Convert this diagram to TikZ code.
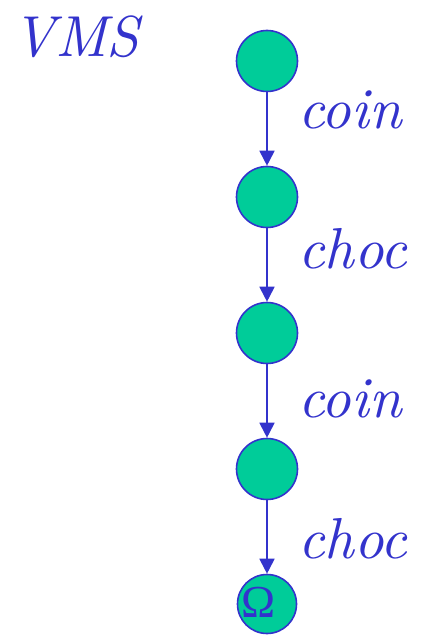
\documentclass[tikz,border=0pt]{standalone}
\usepackage{fontspec}
\newfontfamily\tms{Liberation Serif}
\newfontfamily\lmit{lmroman10-italic.otf}
\usetikzlibrary{arrows.meta}
\definecolor{ink}{HTML}{3333CC}
\definecolor{state}{HTML}{00CC99}
\begin{document}
\begin{tikzpicture}[x=1bp,y=-1bp,
  stnode/.style={circle,draw=ink,fill=state,line width=1.6bp,minimum size=61bp,inner sep=0pt},
  trans/.style={draw=ink,line width=1.8bp,-{Triangle[length=15bp,width=15bp]}},
  lbl/.style={text=ink,font=\lmit\fontsize{58}{60}\selectfont,inner sep=0pt,anchor=base west}]
\useasboundingbox (0,0) rectangle (430,635);
\node[lbl,font=\lmit\fontsize{58}{60}\selectfont] (title) at (12,57) {VMS};
\node[stnode] (s1) at (267,61) {};
\node[stnode] (s2) at (267,197) {};
\node[stnode] (s3) at (267,333) {};
\node[stnode] (s4) at (267,469) {};
\node[stnode,minimum size=59bp] (s5) at (267,604) {};
\node[text=ink,font=\tms\fontsize{46}{48}\selectfont,inner sep=0pt,anchor=base] (om) at (259,617) {Ω};
\draw[trans] (s1) -- (s2);
\draw[trans] (s2) -- (s3);
\draw[trans] (s3) -- (s4);
\draw[trans] (s4) -- (s5);
\node[lbl] (l1) at (298,129) {coin};
\node[lbl] (l2) at (298,268) {choc};
\node[lbl] (l3) at (298,417) {coin};
\node[lbl] (l4) at (298,558) {choc};
\end{tikzpicture}
\end{document}
